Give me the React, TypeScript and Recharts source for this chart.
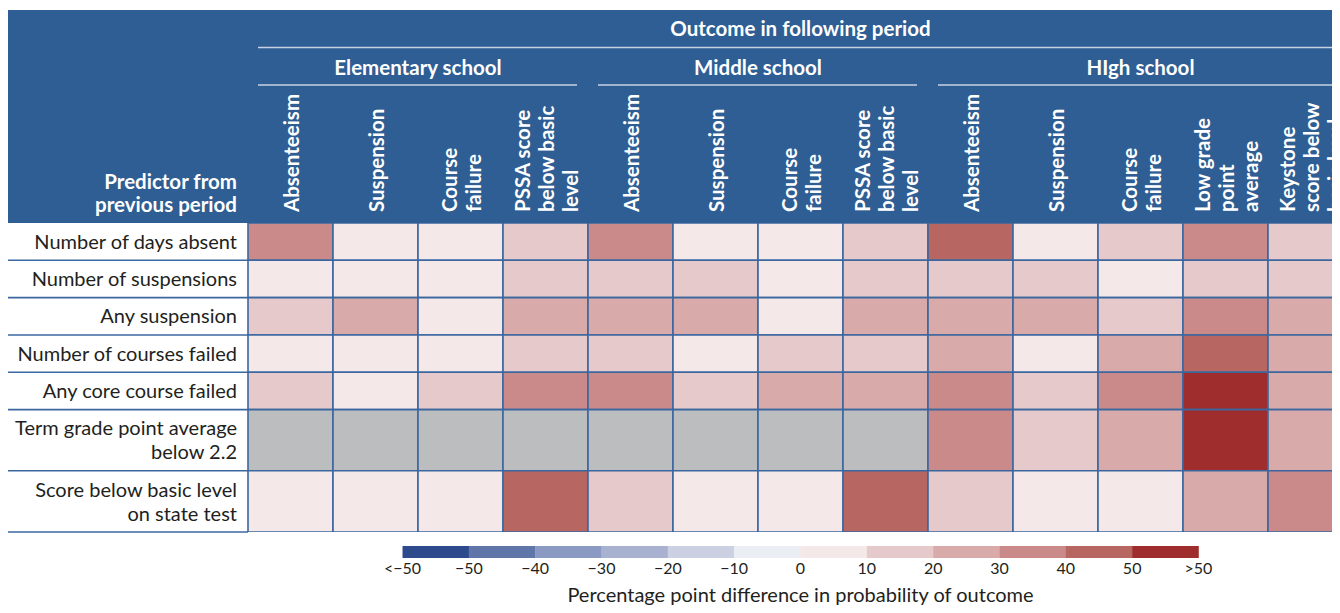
import React from 'react';
import { BarChart, Bar, XAxis, YAxis, Cell, Customized } from 'recharts';

// ---------- data ----------
const predictors = [
  'Number of days absent',
  'Number of suspensions',
  'Any suspension',
  'Number of courses failed',
  'Any core course failed',
  'Term grade point average\nbelow 2.2',
  'Score below basic level\non state test',
];

const outcomes = [
  'Absenteeism', 'Suspension', 'Course\nfailure', 'PSSA score\nbelow basic\nlevel',
  'Absenteeism', 'Suspension', 'Course\nfailure', 'PSSA score\nbelow basic\nlevel',
  'Absenteeism', 'Suspension', 'Course\nfailure', 'Low grade\npoint\naverage', 'Keystone\nscore below\nbasic level',
];

const groups = ['Elementary school', 'Middle school', 'HIgh school'];
const groupSizes = [4, 4, 5];
const title = 'Outcome in following period';
const predictorTitle = ['Predictor from', 'previous period'];

// percentage point differences (null = not applicable)
const daysAbsent = [35, 4, 3, 13, 33, 3, 4, 12, 44, 3, 14, 34, 12];
const numSuspensions = [3, 4, 2, 11, 12, 13, 5, 11, 14, 15, 4, 13, 12];
const anySuspension = [14, 24, 6, 22, 23, 25, 5, 21, 26, 22, 16, 36, 24];
const numCoursesFailed = [4, 3, 5, 14, 13, 6, 15, 12, 25, 4, 27, 46, 23];
const anyCoreFailed = [13, 5, 14, 33, 36, 16, 22, 24, 34, 15, 32, 58, 26];
const lowGpa = [null, null, null, null, null, null, null, null, 35, 17, 26, 60, 24];
const belowBasic = [6, 5, 4, 45, 14, 5, 6, 43, 13, 4, 7, 28, 31];
const rows: (number | null)[][] = [daysAbsent, numSuspensions, anySuspension, numCoursesFailed, anyCoreFailed, lowGpa, belowBasic];

const legendTicks = ['<\u221250', '\u221250', '\u221240', '\u221230', '\u221220', '\u221210', '0', '10', '20', '30', '40', '50', '>50'];
const legendColors = ['#2C4A8C', '#6176A8', '#8B9AC2', '#A8B2D0', '#CBD0E3', '#ECEEF5', '#F5E8E9', '#E6C9CA', '#D8AAAA', '#CB8A8A', '#B76662', '#9F2D2E'];
const legendTitle = 'Percentage point difference in probability of outcome';

// ---------- style / layout ----------
const FONT = "Lato, 'Open Sans', sans-serif";
const HEADER_BLUE = '#2E5E93';
const GRID = '#3B67A0';
const HEAD_LINE = '#C8D2E2';
const GRAY = '#BCBDBE';
const TEXT = '#231F20';
const HEAD_FS = 20.5;

const CHART_W = 1345;
const CHART_H = 597;
const LABEL_W = 240;
const TOP = 2;
const HEADER_H = 213;
const PLOT_TOP = TOP + HEADER_H;
const BOTTOM = 73;
const PLOT_H = CHART_H - PLOT_TOP - BOTTOM;
const COL_W = (CHART_W - LABEL_W) / outcomes.length;

const rowUnits = predictors.map((p) => 1 + 0.64 * (p.split('\n').length - 1));
const totalUnits = rowUnits.reduce((a, b) => a + b, 0);
const rowCenters = rowUnits.map((u, i) => rowUnits.slice(0, i).reduce((a, b) => a + b, 0) + u / 2);
const PX_PER_UNIT = PLOT_H / totalUnits;

const groupStarts = groupSizes.map((_, i) => groupSizes.slice(0, i).reduce((a, b) => a + b, 0));
const groupBoundaries = groupStarts.slice(1);

function colorFor(v: number | null) {
  if (v === null || v === undefined) return GRAY;
  if (v < -50) return legendColors[0];
  const idx = Math.min(11, Math.max(1, Math.floor(v / 10) + 6));
  return legendColors[idx];
}

const colData = outcomes.map((o, c) => ({ key: `c${c}`, label: o }));

// ---------- ticks ----------
const ColumnTick = (props: any) => {
  const { x, payload } = props;
  const idx = colData.findIndex((d) => d.key === payload.value);
  if (idx < 0) return null;
  const lines = outcomes[idx].split('\n');
  const n = lines.length;
  const base = PLOT_TOP - 11;
  return (
    <g>
      {lines.map((ln, i) => {
        const lx = x + 1.5 + (i - (n - 1) / 2) * 24;
        return (
          <text key={i} x={lx} y={base} transform={`rotate(-90, ${lx}, ${base})`} dy="0.36em" textAnchor="start"
            fill="#fff" fontWeight={700} fontSize={HEAD_FS} fontFamily={FONT}>{ln}</text>
        );
      })}
    </g>
  );
};

const RowTick = (props: any) => {
  const { y, payload } = props;
  const r = rowCenters.findIndex((v) => Math.abs(v - payload.value) < 1e-6);
  if (r < 0) return null;
  const lines = predictors[r].split('\n');
  const n = lines.length;
  const bottom = y + (rowUnits[r] / 2) * PX_PER_UNIT;
  return (
    <g>
      {lines.map((ln, i) => (
        <text key={i} x={LABEL_W - 11} y={y + (i - (n - 1) / 2) * 24} dy="0.36em" textAnchor="end"
          fill={TEXT} fontSize={20} fontFamily={FONT}>{ln}</text>
      ))}
      <line x1={0} x2={LABEL_W} y1={bottom} y2={bottom} stroke={GRID} strokeWidth={1.6} />
    </g>
  );
};

// ---------- header, separators + legend ----------
const HeaderAndLegend = () => {
  const plotCenter = LABEL_W + (CHART_W - LABEL_W) / 2;
  const legW = 66.33;
  const legX = plotCenter - (legendColors.length / 2) * legW;
  const legY = PLOT_TOP + PLOT_H + 14;
  return (
    <g>
      {groupBoundaries.map((b) => (
        <line key={b} x1={LABEL_W + b * COL_W} x2={LABEL_W + b * COL_W} y1={PLOT_TOP} y2={PLOT_TOP + PLOT_H}
          stroke={HEADER_BLUE} strokeWidth={4.5} />
      ))}
      <text x={plotCenter} y={27.5} textAnchor="middle" fill="#fff" fontWeight={700} fontSize={HEAD_FS} fontFamily={FONT}>{title}</text>
      <line x1={LABEL_W + 10} x2={CHART_W} y1={39.5} y2={39.5} stroke={HEAD_LINE} strokeWidth={1.6} />
      {groups.map((g, i) => {
        const x0 = LABEL_W + groupStarts[i] * COL_W;
        const x1 = x0 + groupSizes[i] * COL_W;
        return (
          <g key={g}>
            <text x={(x0 + x1) / 2} y={66.5} textAnchor="middle" fill="#fff" fontWeight={700} fontSize={HEAD_FS} fontFamily={FONT}>{g}</text>
            <line x1={x0 + 10} x2={x1 - 11} y1={77} y2={77} stroke={HEAD_LINE} strokeWidth={1.6} />
          </g>
        );
      })}
      {predictorTitle.map((t, i) => (
        <text key={t} x={LABEL_W - 11} y={180.5 + i * 23} textAnchor="end" fill="#fff" fontWeight={700} fontSize={HEAD_FS} fontFamily={FONT}>{t}</text>
      ))}
      {legendColors.map((c, i) => (
        <rect key={c} x={legX + i * legW} y={legY} width={legW + 0.3} height={12} fill={c} />
      ))}
      {legendTicks.map((t, i) => (
        <text key={t + i} x={legX + i * legW} y={legY + 28} textAnchor="middle" fill={TEXT} fontSize={16} fontFamily={FONT}>{t}</text>
      ))}
      <text x={plotCenter} y={594} textAnchor="middle" fill={TEXT} fontSize={20} fontFamily={FONT}>{legendTitle}</text>
    </g>
  );
};

export default function App() {
  return (
    <div style={{ position: 'relative', width: 1332, height: CHART_H, overflow: 'hidden' }}>
      <div style={{ position: 'absolute', left: 0, top: 1.5, width: 1332, height: PLOT_TOP - 1.5, background: HEADER_BLUE }} />
      <div style={{ position: 'absolute', left: 0, top: 0 }}>
        <BarChart width={CHART_W} height={CHART_H} data={colData} barCategoryGap={0} barGap={0}
          margin={{ top: TOP, right: 0, bottom: BOTTOM, left: 0 }}>
          <XAxis dataKey="key" type="category" orientation="top" height={HEADER_H} interval={0}
            axisLine={false} tickLine={false} tick={<ColumnTick />} />
          <YAxis type="number" domain={[0, totalUnits]} reversed allowDataOverflow ticks={rowCenters} interval={0}
            width={LABEL_W} axisLine={false} tickLine={false} tick={<RowTick />} />
          {predictors.map((p, r) => (
            <Bar key={p} name={p} dataKey={() => rowUnits[r]} stackId="s" isAnimationActive={false}>
              {outcomes.map((_, c) => (
                <Cell key={c} fill={colorFor(rows[r][c])} stroke={GRID} strokeWidth={1.6} />
              ))}
            </Bar>
          ))}
          <Customized component={<HeaderAndLegend />} />
        </BarChart>
      </div>
    </div>
  );
}
